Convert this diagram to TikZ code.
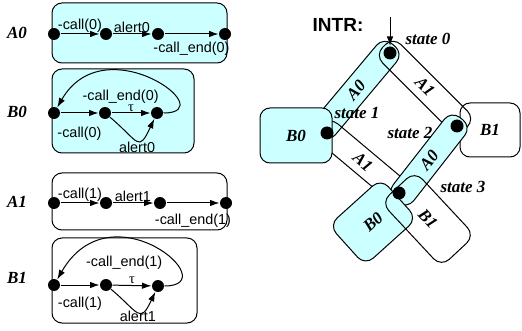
\documentclass[tikz,border=0pt]{standalone}
\usepackage{fontspec}
\setmainfont{Liberation Serif}
\setsansfont{Liberation Sans}
\usepackage{tikz}
\usetikzlibrary{arrows.meta}
\usetikzlibrary{positioning}
\definecolor{lightcyan}{RGB}{204,255,255}
\tikzset{dot/.style={circle, fill=black, inner sep=0pt, minimum size=12pt}}
\tikzset{bigdot/.style={circle, fill=black, inner sep=0pt, minimum size=13pt}}
\tikzset{lbl/.style={font=\sffamily\fontsize{14.4}{14.4}\selectfont, inner sep=1pt}}
\tikzset{proc/.style={font=\bfseries\itshape\fontsize{17}{17}\selectfont, inner sep=0pt}}
\tikzset{procbox/.style={draw=black, rectangle, rounded corners=10pt, inner sep=0pt, font=\bfseries\itshape\fontsize{17}{17}\selectfont}}
\tikzset{band/.style={procbox, rounded corners=11pt, minimum height=26pt}}

\begin{document}
\begin{tikzpicture}[x=1pt, y=-1pt, >={Latex[length=9.5pt,width=6.5pt]}, line width=1pt]
	\useasboundingbox (0,0) rectangle (522,331);
	% A0
	\node[proc] (nA0) at (17,33) {A0};
	\draw[procbox, fill=lightcyan] (52,3) rectangle (227,63);
	\node[dot] (a0s) at (54,34) {};
	\node[dot] (a0c) at (106,34) {};
	\node[dot] (a0a) at (158,34) {};
	\node[dot] (a0e) at (225,34) {};
	\path [->] (a0s) edge node[lbl, above] (a0l1) {-call(0)} (a0c);
	\path [->] (a0c) edge node[lbl, above] (a0l2) {alert0} (a0a);
	\path [->] (a0a) edge node[lbl, below=7pt] (a0l3) {-call\_end(0)} (a0e);
	% B0
	\node[proc] (nB0) at (17,112) {B0};
	\draw[procbox, fill=lightcyan] (52,69) rectangle (194,153);
	\node[dot] (b0s) at (54,113) {};
	\node[dot] (b0c) at (105,113) {};
	\node[dot] (b0t) at (157,113) {};
	\path [->] (b0s) edge node[lbl, below=13pt] (b0l1) {-call(0)} (b0c);
	\path [->] (b0c) edge node[lbl, above] (b0l2) {\textrm{τ}} (b0t);
	\path [->] (b0c) edge[out=-40, in=-115, looseness=2.2] node[lbl, below] (b0l3) {alert0} (b0t);
	\path [->] (b0t) edge[out=0, in=60, out distance=60pt, in distance=95pt] node[lbl, pos=0.66, below=16pt] (b0l4) {-call\_end(0)} (b0s);
	% A1
	\node[proc] (nA1) at (17,202) {A1};
	\draw[procbox] (52,173) rectangle (227,230);
	\node[dot] (a1s) at (54,203) {};
	\node[dot] (a1c) at (106,203) {};
	\node[dot] (a1a) at (160,203) {};
	\node[dot] (a1e) at (226,203) {};
	\path [->] (a1s) edge node[lbl, above] (a1l1) {-call(1)} (a1c);
	\path [->] (a1c) edge node[lbl, above] (a1l2) {alert1} (a1a);
	\path [->] (a1a) edge node[lbl, below=10pt] (a1l3) {-call\_end(1)} (a1e);
	% B1
	\node[proc] (nB1) at (17,278) {B1};
	\draw[procbox] (52,238) rectangle (197,323);
	\node[dot] (b1s) at (54,285) {};
	\node[dot] (b1c) at (106,285) {};
	\node[dot] (b1t) at (158,286) {};
	\path [->] (b1s) edge node[lbl, below=11pt] (b1l1) {-call(1)} (b1c);
	\path [->] (b1c) edge node[lbl, above] (b1l2) {\textrm{τ}} (b1t);
	\path [->] (b1c) edge[out=-40, in=-115, looseness=2.1] node[lbl, below=-2pt] (b1l3) {alert1} (b1t);
	\path [->] (b1t) edge[out=0, in=60, out distance=62pt, in distance=108pt] node[lbl, pos=0.66, below=15pt] (b1l4) {-call\_end(1)} (b1s);
	% INTR
	\node[font=\sffamily\bfseries\fontsize{19}{19}\selectfont, inner sep=0pt] (intr) at (338,25) {INTR:};
	\node[band, fill=lightcyan, minimum width=117pt, rotate=50] (a0top) at (356,90) {A0};
	\node[band, minimum width=116pt, rotate=-45] (a1top) at (425,87) {A1};
	\node[band, minimum width=110pt, rotate=-40] (a1bot) at (363,162) {A1};
	\node[procbox, minimum width=60pt, minimum height=54pt] (b1box) at (490,130) {B1};
	\node[procbox, fill=lightcyan, minimum width=72pt, minimum height=55pt] (b0box) at (296,135.5) {B0};
	\node[band, fill=lightcyan, minimum width=105pt, rotate=52] (a0bot) at (429,160) {A0};
	\node[band, fill=lightcyan, minimum width=70pt, minimum height=54pt, rotate=42] (b0rot) at (373,222) {B0};
	\node[band, minimum width=88pt, minimum height=46pt, rotate=-47] (b1rot) at (428,219) {B1};
	\node[bigdot] (s0) at (390,53) {};
	\node[bigdot] (s1) at (327,133) {};
	\node[bigdot] (s2) at (457,126) {};
	\node[bigdot] (s3) at (399,193) {};
	\coordinate (intrtop) at (390,17);
	\draw[->] (intrtop) -- (s0);
	\node[proc] (st0) at (428,39) {state 0};
	\node[proc] (st1) at (357,113) {state 1};
	\node[proc] (st2) at (410,133) {state 2};
	\node[proc] (st3) at (463,187) {state 3};
\end{tikzpicture}
\end{document}
